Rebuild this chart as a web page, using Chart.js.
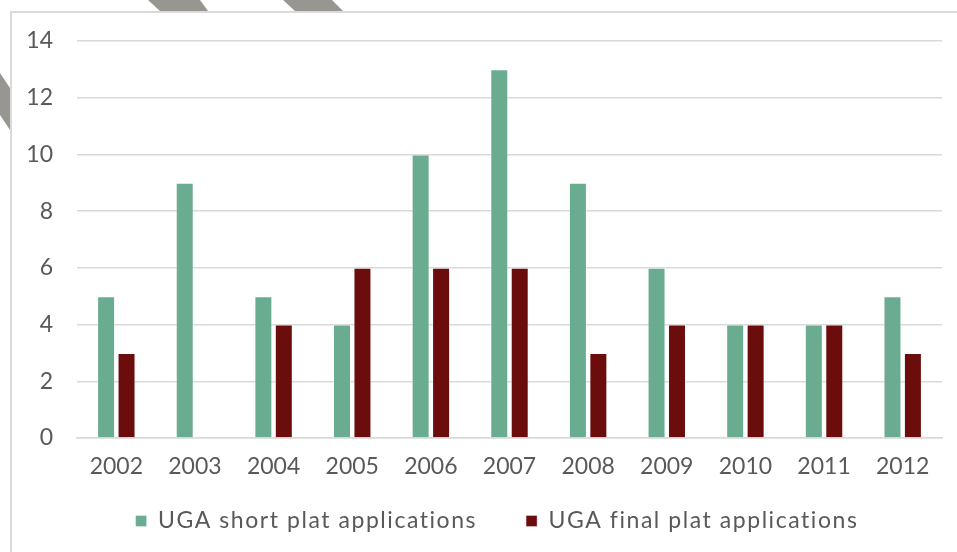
<!DOCTYPE html>
<html>
<head>
<meta charset="utf-8">
<script src="https://cdn.jsdelivr.net/npm/chart.js@4.4.1/dist/chart.umd.min.js"></script>
<style>
  html, body { margin: 0; padding: 0; background: #ffffff; }
  body { width: 957px; height: 552px; position: relative; overflow: hidden; }
  #wrap { position: absolute; left: 0; top: 0; width: 957px; height: 552px; }
  .stripe { position: absolute; background: #979690; }
  #frame { position: absolute; left: 10px; top: 11px; width: 960px; height: 560px;
           border: 2px solid #dadada; box-sizing: border-box; pointer-events: none; }
</style>
</head>
<body>
<div class="stripe" style="left:140px;top:0;width:80px;height:11px;clip-path:polygon(8px 0,60px 0,68px 11px,20px 11px);"></div>
<div class="stripe" style="left:275px;top:0;width:80px;height:11px;clip-path:polygon(8px 0,57px 0,68px 11px,20px 11px);"></div>
<div class="stripe" style="left:0;top:70px;width:11px;height:70px;clip-path:polygon(0 3px,10px 18px,10px 60px,0 45px);"></div>
<div id="wrap"><canvas id="c" width="957" height="552"></canvas></div>
<div id="frame"></div>
<script>
const categories = ['2002','2003','2004','2005','2006','2007','2008','2009','2010','2011','2012'];
const shortPlat = [5, 9, 5, 4, 10, 13, 9, 6, 4, 4, 5];
const finalPlat = [3, 0, 4, 6, 6, 6, 3, 4, 4, 4, 3];
const seriesNames = ['UGA short plat applications', 'UGA final plat applications'];
const yTicks = [0, 2, 4, 6, 8, 10, 12, 14];

const FONT = 'Lato, "DejaVu Sans", sans-serif';
const TXT = '#595959';
const LEGEND_SPACING = '1.55px';
const LEGEND_H = 56.4;
const LEGEND_DY = -35.1;
const LEGEND_DX = 26;

const legendTweak = {
  id: 'legendTweak',
  afterInit(chart) {
    const lg = chart.legend;
    if (!lg || lg._tweaked) return;
    lg._tweaked = true;
    const oFit = lg.fit.bind(lg);
    const oDraw = lg.draw.bind(lg);
    lg.fit = function () {
      const ctx = this.ctx;
      ctx.save();
      ctx.letterSpacing = LEGEND_SPACING;
      oFit();
      ctx.restore();
      this.height = LEGEND_H;
    };
    lg.draw = function () {
      const ctx = this.ctx;
      const t = this.top, b = this.bottom, l = this.left, r = this.right;
      this.top = t + LEGEND_DY;
      this.bottom = 552;
      this.left = l + LEGEND_DX;
      this.right = r + LEGEND_DX;
      ctx.save();
      ctx.letterSpacing = LEGEND_SPACING;
      oDraw();
      ctx.restore();
      this.top = t; this.bottom = b; this.left = l; this.right = r;
    };
  }
};

new Chart(document.getElementById('c'), {
  type: 'bar',
  data: {
    labels: categories,
    datasets: [
      { label: seriesNames[0], data: shortPlat, backgroundColor: '#6AAC8F',
        borderColor: 'rgba(255,255,255,0.35)', borderWidth: 1 },
      { label: seriesNames[1], data: finalPlat, backgroundColor: '#6B0D0D',
        borderColor: 'rgba(255,255,255,0.35)', borderWidth: ctx => (ctx.raw ? 1 : 0) }
    ]
  },
  plugins: [legendTweak],
  options: {
    responsive: false,
    animation: false,
    devicePixelRatio: 1,
    datasets: { bar: { categoryPercentage: 0.52, barPercentage: 0.88 } },
    layout: { padding: { left: 0, right: 15, top: 41, bottom: 0 } },
    plugins: {
      title: { display: false },
      tooltip: { enabled: false },
      legend: {
        position: 'bottom',
        labels: {
          color: TXT,
          font: { family: FONT, size: 23 },
          boxWidth: 11, boxHeight: 11,
          padding: 49
        }
      }
    },
    scales: {
      x: {
        grid: { display: false, drawTicks: false },
        border: { display: true, color: '#d9d9d9', width: 1.5 },
        ticks: { color: TXT, font: { family: FONT, size: 23 }, padding: 15, maxRotation: 0 }
      },
      y: {
        min: 0, max: 14,
        afterFit: s => { s.width = 77; s.paddingTop = 0; s.paddingBottom = 0; },
        afterBuildTicks: s => { s.ticks = yTicks.map(v => ({ value: v })); },
        grid: { color: '#d9d9d9', lineWidth: 1.5, drawTicks: false },
        border: { display: false },
        ticks: { color: TXT, font: { family: FONT, size: 23 }, padding: 24, stepSize: 2 }
      }
    }
  }
});
</script>
</body>
</html>
